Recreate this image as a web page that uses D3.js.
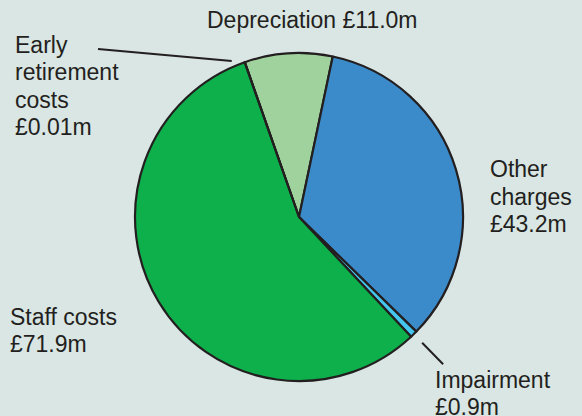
<!DOCTYPE html>
<html><head><meta charset="utf-8">
<script src="https://cdn.jsdelivr.net/npm/d3@7"></script>
<style>html,body{margin:0;padding:0;background:#d9e6e3;}svg{display:block;}</style>
</head><body>
<script>
const categories = ["Depreciation", "Other charges", "Impairment", "Staff costs", "Early retirement costs"];
const values = [11.0, 43.2, 0.9, 71.9, 0.01];
const valueLabels = ["£11.0m", "£43.2m", "£0.9m", "£71.9m", "£0.01m"];
const colors = ["#9fd29c", "#3b8bcb", "#45c6ef", "#0db04b", "#0db04b"];

const W = 582, H = 416;
const cx = 299, cy = 217, R = 164;
const svg = d3.select("body").append("svg").attr("width", W).attr("height", H);
svg.append("rect").attr("width", W).attr("height", H).attr("fill", "#d9e6e3");

const start = -19.3 * Math.PI / 180;
const pie = d3.pie().sort(null).value(d => d.v).startAngle(start).endAngle(start + 2 * Math.PI);
const data = categories.map((c, i) => ({c, v: values[i], col: colors[i]}));
const arcs = pie(data);
const arc = d3.arc().innerRadius(0).outerRadius(R);
const g = svg.append("g").attr("transform", `translate(${cx},${cy})`);
g.selectAll("path").data(arcs).join("path")
  .attr("d", arc).attr("fill", d => d.data.col)
  .attr("stroke", "#231f20").attr("stroke-width", 2.2).attr("stroke-linejoin", "round");

// leader lines
const pt = (a, r) => [cx + r * Math.sin(a), cy - r * Math.cos(a)];
const er = arcs[4];
const erA = (er.startAngle + er.endAngle) / 2 - 4 * Math.PI / 180;
const p1 = pt(erA, R + 6);
svg.append("line").attr("x1", 98).attr("y1", 49).attr("x2", p1[0]).attr("y2", p1[1])
  .attr("stroke", "#231f20").attr("stroke-width", 2);
const im = arcs[2];
const imA = (im.startAngle + im.endAngle) / 2;
const q1 = pt(imA, R + 12), q2 = pt(imA, R + 42);
svg.append("line").attr("x1", q1[0]).attr("y1", q1[1]).attr("x2", q2[0]).attr("y2", q2[1])
  .attr("stroke", "#231f20").attr("stroke-width", 2);

const labels = [
  {x: 207, y: 28, lines: ["Depreciation " + valueLabels[0]], lh: 27},
  {x: 15, y: 53, lines: ["Early", "retirement", "costs", valueLabels[4]], lh: 27.3},
  {x: 490, y: 177, lines: ["Other", "charges", valueLabels[1]], lh: 27.5},
  {x: 10, y: 325, lines: ["Staff costs", valueLabels[3]], lh: 27},
  {x: 435, y: 388, lines: ["Impairment", valueLabels[2]], lh: 27}
];
labels.forEach(l => {
  const t = svg.append("text").attr("font-family", "'Liberation Sans', Arial, sans-serif")
    .attr("font-size", 23).attr("fill", "#231f20");
  l.lines.forEach((s, i) => t.append("tspan").attr("x", l.x).attr("y", l.y + i * l.lh).text(s));
});
</script>
</body></html>
